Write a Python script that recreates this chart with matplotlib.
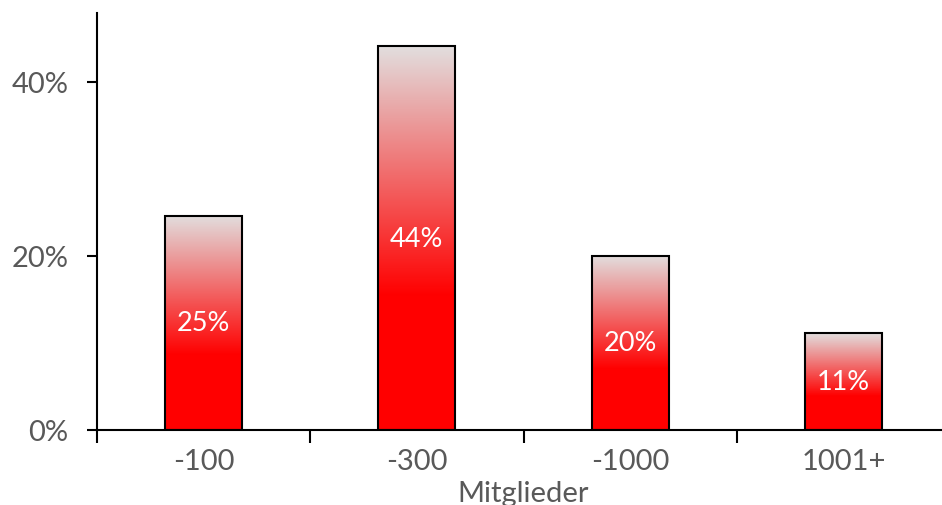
import numpy as np
import matplotlib
matplotlib.use("Agg")
from matplotlib import pyplot as plt
from matplotlib.colors import LinearSegmentedColormap
from matplotlib.patches import Rectangle

# Data
categories = ["-100", "-300", "-1000", "1001+"]
values = [24.6, 44.1, 20.0, 11.1]
labels = ["25%", "44%", "20%", "11%"]

plt.rcParams['font.family'] = ['Lato', 'DejaVu Sans']
text_gray = '#595959'

fig = plt.figure(figsize=(9.42, 5.06), dpi=100)
# axes runs a bit past the right edge, like the cropped original
ax = fig.add_axes([97 / 942, 75 / 506, 853 / 942, 417 / 506])

# red at the bottom, fading to light gray at the top of each bar
cmap = LinearSegmentedColormap.from_list(
    'redfade', [(0.0, (1, 0, 0)), (0.35, (1, 0, 0)), (1.0, (0.886, 0.871, 0.871))])
grad = np.linspace(0, 1, 256).reshape(-1, 1)

bar_w = 0.36
for i, v in enumerate(values):
    x0 = i - bar_w / 2
    im = ax.imshow(grad, cmap=cmap, aspect='auto', origin='lower',
                   extent=[x0, x0 + bar_w, 0, v], zorder=2)
    rect = Rectangle((x0, 0), bar_w, v, facecolor='none', edgecolor='black',
                     linewidth=1.5, zorder=3)
    ax.add_patch(rect)
    im.set_clip_path(rect)
    ax.text(i, v / 2, labels[i], ha='center', va='center', color='white',
            fontsize=19.5, zorder=4)

ax.set_xlim(-0.5, 3.5)
ax.set_ylim(0, 47.9)

ax.spines['top'].set_visible(False)
ax.spines['right'].set_visible(False)
ax.spines['left'].set_linewidth(1.5)
ax.spines['bottom'].set_linewidth(1.5)

ax.set_yticks([0, 20, 40])
ax.set_yticklabels(['0%', '20%', '40%'])
ax.tick_params(axis='y', direction='out', length=7, width=1.5, colors='black',
               labelcolor=text_gray, labelsize=21, pad=13.5)

# category labels at centres, tick marks at the boundaries
ax.set_xticks(range(len(categories)))
ax.set_xticklabels(categories)
ax.tick_params(axis='x', which='major', length=0, labelcolor=text_gray,
               labelsize=21, pad=13)
ax.set_xticks([-0.5, 0.5, 1.5, 2.5, 3.5], minor=True)
ax.tick_params(axis='x', which='minor', direction='out', length=9, width=1.5,
               colors='black')

ax.set_xlabel('Mitglieder', color=text_gray, fontsize=21)
ax.xaxis.set_label_coords(0.5, -0.15)
ax.xaxis.label.set_va('center')

fig.savefig('out.png', dpi=100)
